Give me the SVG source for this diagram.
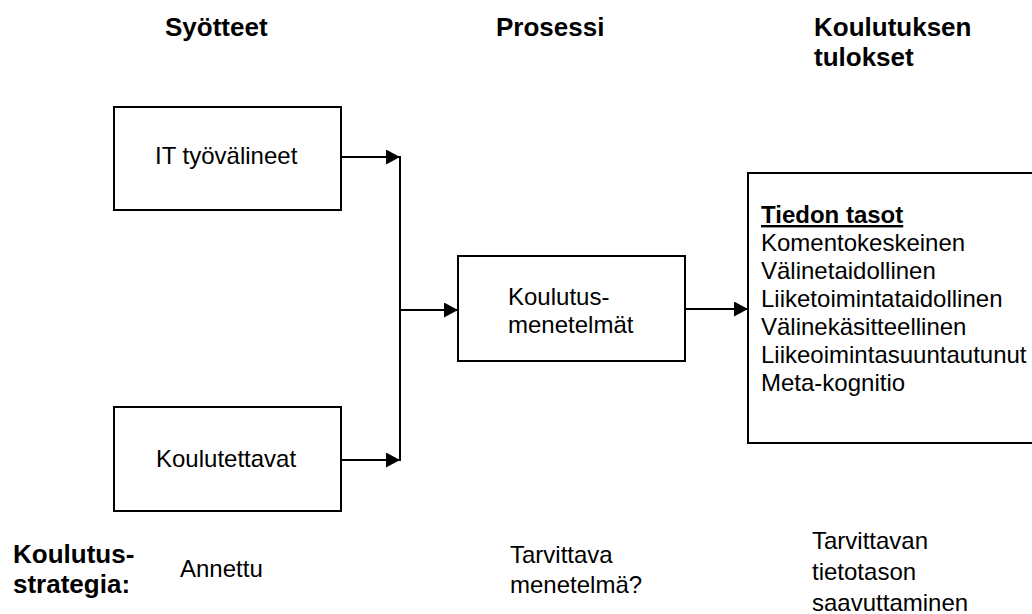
<svg xmlns="http://www.w3.org/2000/svg" width="1032" height="614" viewBox="0 0 1032 614">
<style>
text{font-family:"Liberation Sans",Arial,sans-serif;fill:#000}
.h{font-weight:bold;font-size:26px}
.b{font-size:24px}
.box{fill:#fff;stroke:#000;stroke-width:2}
.ln{fill:none;stroke:#000;stroke-width:2}
</style>
<defs>
<marker id="ah" markerWidth="14" markerHeight="15" refX="14" refY="7.5" orient="auto" markerUnits="userSpaceOnUse">
<path d="M0,0 L14,7.5 L0,15 Z" fill="#000"/>
</marker>
</defs>
<rect width="1032" height="614" fill="#fff"/>
<g id="headers">
<text class="h" x="165" y="36">Syötteet</text>
<text class="h" x="496" y="36">Prosessi</text>
<text class="h" x="814" y="36">Koulutuksen</text>
<text class="h" x="814" y="66">tulokset</text>
</g>
<g id="connectors">
<line class="ln" x1="341" y1="157" x2="400" y2="157" marker-end="url(#ah)"/>
<line class="ln" x1="341" y1="460" x2="400" y2="460" marker-end="url(#ah)"/>
<line class="ln" x1="400" y1="156" x2="400" y2="461"/>
<line class="ln" x1="400" y1="310" x2="458" y2="310" marker-end="url(#ah)"/>
<line class="ln" x1="686" y1="309" x2="748" y2="309" marker-end="url(#ah)"/>
</g>
<g id="it-tyovalineet">
<rect class="box" x="114" y="107" width="227" height="103"/>
<text class="b" x="155" y="164">IT työvälineet</text>
</g>
<g id="koulutettavat">
<rect class="box" x="114" y="407" width="227" height="104"/>
<text class="b" x="156" y="467">Koulutettavat</text>
</g>
<g id="koulutusmenetelmat">
<rect class="box" x="458" y="256" width="227" height="105"/>
<text class="b" x="508" y="305">Koulutus-</text>
<text class="b" x="508" y="333">menetelmät</text>
</g>
<g id="tiedon-tasot">
<rect class="box" x="748" y="173" width="300" height="270"/>
<text class="b" x="761" y="223" font-weight="bold" text-decoration="underline">Tiedon tasot</text>
<text class="b" x="761" y="251">Komentokeskeinen</text>
<text class="b" x="761" y="279">Välinetaidollinen</text>
<text class="b" x="761" y="307">Liiketoimintataidollinen</text>
<text class="b" x="761" y="335">Välinekäsitteellinen</text>
<text class="b" x="761" y="363">Liikeoimintasuuntautunut</text>
<text class="b" x="761" y="391">Meta-kognitio</text>
</g>
<g id="strategia">
<text class="h" x="13" y="563">Koulutus-</text>
<text class="h" x="13" y="593">strategia:</text>
<text class="b" x="180" y="577">Annettu</text>
<text class="b" x="510" y="563">Tarvittava</text>
<text class="b" x="510" y="593">menetelmä?</text>
<text class="b" x="812" y="549">Tarvittavan</text>
<text class="b" x="812" y="580">tietotason</text>
<text class="b" x="812" y="611">saavuttaminen</text>
</g>
</svg>
